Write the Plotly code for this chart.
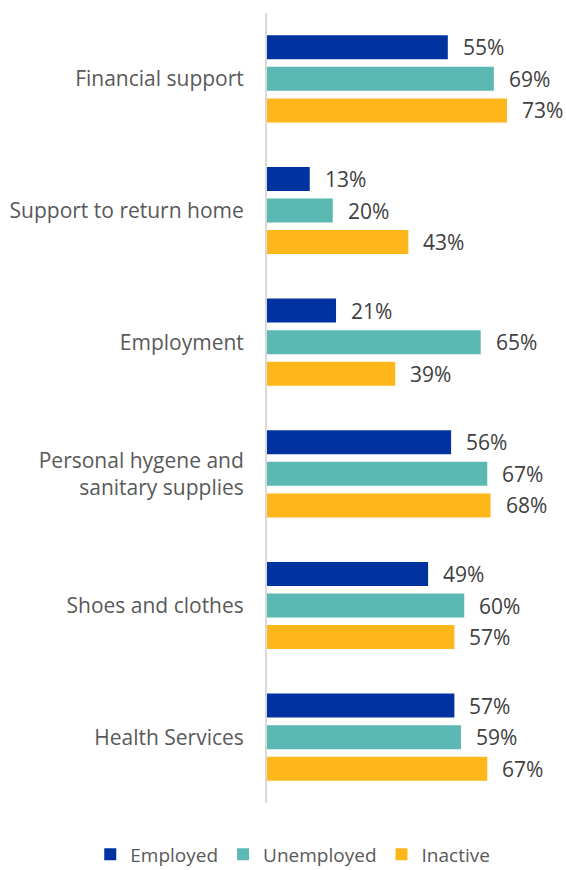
import plotly.graph_objects as go

categories = ["Financial support", "Support to return home", "Employment",
              "Personal hygene and<br>sanitary supplies", "Shoes and clothes", "Health Services"]
series_names = ["Employed", "Unemployed", "Inactive"]
employed = [55, 13, 21, 56, 49, 57]
unemployed = [69, 20, 65, 67, 60, 59]
inactive = [73, 43, 39, 68, 57, 67]
colors = ["#0033A0", "#5BB8B2", "#FDB71A"]
series_values = [employed, unemployed, inactive]

FONT = "Open Sans"
W, H = 566, 870
M = dict(l=267, r=36, t=13, b=67, autoexpand=False)
BARGAP, GROUPGAP = 0.28, 0.24

fig = go.Figure()
for name, vals, col in zip(series_names, series_values, colors):
    fig.add_trace(go.Bar(
        y=categories, x=vals, name=name, orientation="h",
        marker=dict(color=col, line=dict(width=0)),
        hoverinfo="skip",
    ))

# value labels to the right of each bar, shifted to the bar's slot within its group
plot_h = H - M["t"] - M["b"]
slot = plot_h / len(categories) * (1 - BARGAP) / len(series_names)
mid = (len(series_names) - 1) / 2
for i, vals in enumerate(series_values):
    for c, v in zip(categories, vals):
        fig.add_annotation(
            x=v, y=c, text=f"{v}%", showarrow=False,
            xanchor="left", yanchor="middle", xshift=13, yshift=(mid - i) * slot,
            font=dict(family=FONT, size=21, color="#404040"),
        )

fig.update_layout(
    width=W, height=H, margin=M,
    barmode="group", bargap=BARGAP, bargroupgap=GROUPGAP,
    plot_bgcolor="white", paper_bgcolor="white",
    font=dict(family=FONT, size=21, color="#595959"),
    xaxis=dict(range=[0, 80], visible=False, fixedrange=True),
    yaxis=dict(autorange="reversed", showline=True, linecolor="#D9D9D9", linewidth=2,
               ticks="", ticklabelstandoff=17, showgrid=False,
               tickfont=dict(family=FONT, size=21, color="#595959")),
    legend=dict(orientation="h", x=-0.672, xanchor="left",
                y=-0.065, yanchor="middle",
                font=dict(family=FONT, size=19, color="#595959"),
                itemwidth=30, traceorder="normal"),
    showlegend=True,
)

fig.write_html("out.html")
